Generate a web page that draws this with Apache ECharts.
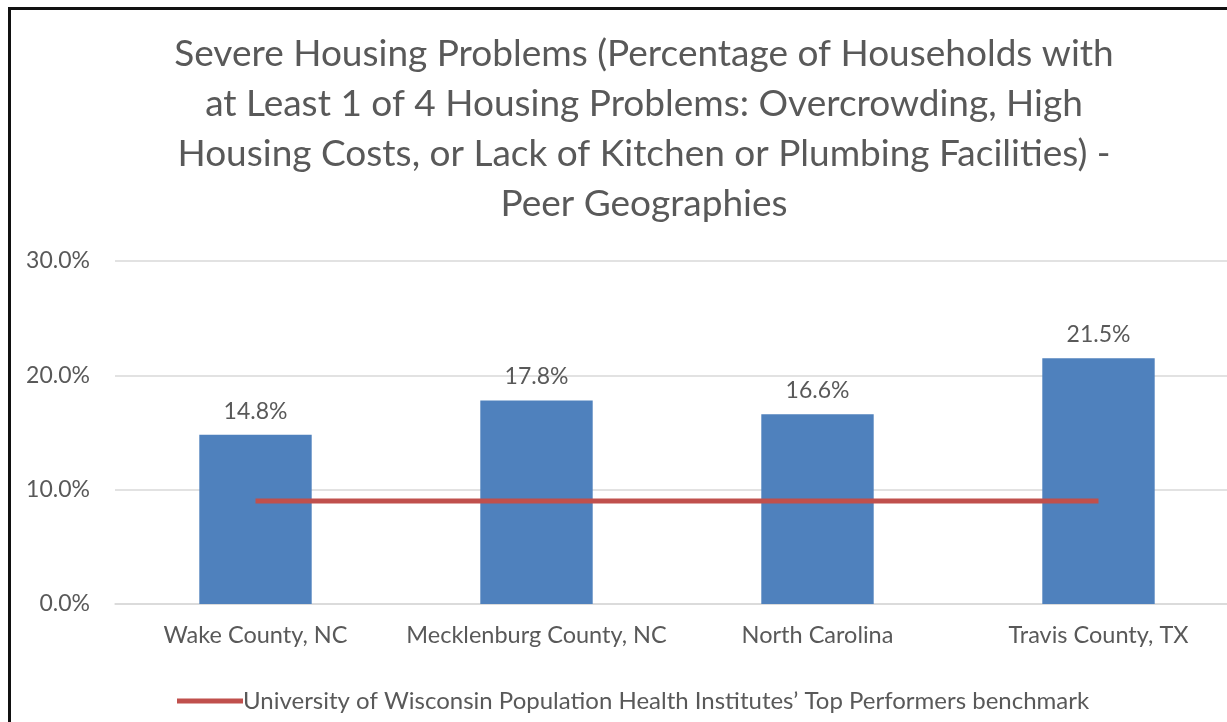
<!DOCTYPE html>
<html style="height: 100%">
    <head>
        <meta charset="utf-8">
        <script type="text/javascript" src="https://cdn.jsdelivr.net/npm/echarts@6/dist/echarts.min.js"></script>
    </head>
    <body style="height: 100%; margin: 0; background: #fff">
        <div id="frame" style="position: absolute; left: 8px; top: 7px; right: 0; bottom: 0; border-left: 3px solid #111; border-top: 3px solid #111"></div>
        <div id="main" style="position: absolute; left: 0; top: 0; width: 1227px; height: 722px"></div>
        <script type="text/javascript">
            var titleText = 'Severe Housing Problems (Percentage of Households with\nat Least 1 of 4 Housing Problems: Overcrowding, High\nHousing Costs, or Lack of Kitchen or Plumbing Facilities) -\nPeer Geographies';
            var categories = ['Wake County, NC', 'Mecklenburg County, NC', 'North Carolina', 'Travis County, TX'];
            var shareValues = [14.8, 17.8, 16.6, 21.5];
            var benchmarkName = 'University of Wisconsin Population Health Institutes\u2019 Top Performers benchmark';
            var benchmarkValues = [9, 9, 9, 9];

            var font = 'Lato, "Open Sans", sans-serif';
            var myChart = echarts.init(document.getElementById('main'), null, {renderer: 'canvas'});
            myChart.setOption({
                backgroundColor: 'transparent',
                animation: false,
                textStyle: {fontFamily: font},
                title: {
                    text: titleText,
                    left: 639,
                    textAlign: 'center',
                    top: 24,
                    textStyle: {
                        color: '#595959',
                        fontSize: 37,
                        fontWeight: 'normal',
                        lineHeight: 50,
                        fontFamily: font
                    }
                },
                grid: {
                    left: 115,
                    width: 1124,
                    top: 261,
                    height: 343,
                    outerBoundsMode: 'none'
                },
                legend: {
                    data: [benchmarkName],
                    left: 172,
                    top: 684,
                    itemWidth: 66,
                    itemHeight: 5,
                    itemGap: 2,
                    icon: 'rect',
                    textStyle: {color: '#595959', fontSize: 24, padding: [0, 0, 0, -5]}
                },
                xAxis: {
                    type: 'category',
                    data: categories,
                    axisLine: {lineStyle: {color: '#D9D9D9', width: 1.5}},
                    axisTick: {show: false},
                    axisLabel: {color: '#595959', fontSize: 23.5, margin: 19, interval: 0}
                },
                yAxis: {
                    type: 'value',
                    min: 0,
                    max: 30,
                    interval: 10,
                    axisLine: {show: false},
                    axisTick: {show: false},
                    splitLine: {lineStyle: {color: '#D9D9D9', width: 1.5}},
                    axisLabel: {
                        color: '#595959',
                        fontSize: 23,
                        margin: 25,
                        formatter: function (v) { return v.toFixed(1) + '%'; }
                    }
                },
                series: [
                    {
                        type: 'bar',
                        data: shareValues,
                        barWidth: '40%',
                        itemStyle: {color: '#4F81BD'},
                        label: {
                            show: true,
                            position: 'top',
                            distance: 12,
                            color: '#595959',
                            fontSize: 23,
                            formatter: function (p) { return p.value.toFixed(1) + '%'; }
                        }
                    },
                    {
                        name: benchmarkName,
                        type: 'line',
                        data: benchmarkValues,
                        symbol: 'none',
                        lineStyle: {color: '#C0504D', width: 5},
                        itemStyle: {color: '#C0504D'}
                    }
                ]
            });
        </script>
    </body>
</html>
